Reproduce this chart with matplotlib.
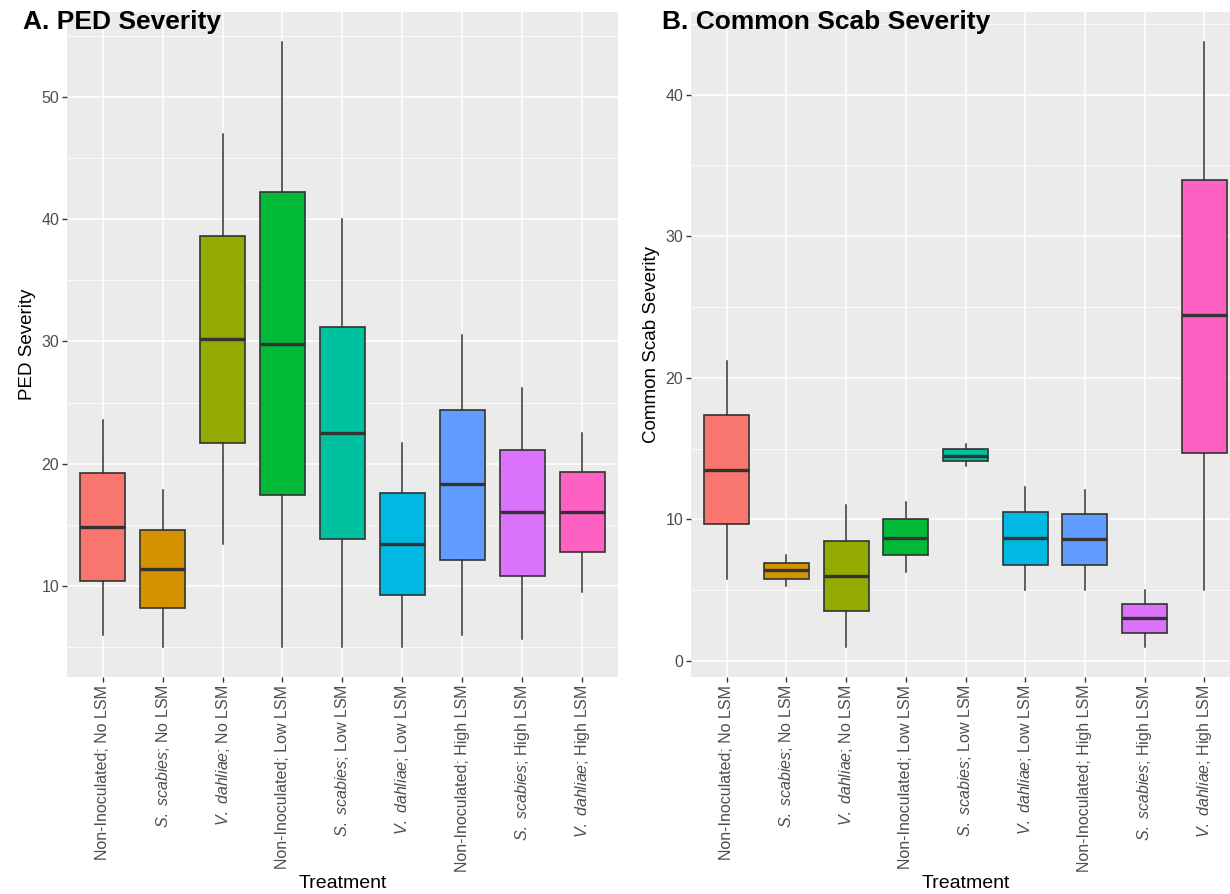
import matplotlib
matplotlib.use("Agg")
import matplotlib.pyplot as plt
from matplotlib.ticker import MultipleLocator

plt.rcParams['font.family'] = ['Liberation Sans', 'DejaVu Sans']
plt.rcParams['mathtext.fontset'] = 'custom'
plt.rcParams['mathtext.rm'] = 'Liberation Sans'
plt.rcParams['mathtext.it'] = 'Liberation Sans:italic'

treatments = [
    "Non-Inoculated; No LSM",
    r"$\mathit{S.}$ $\mathit{scabies}$; No LSM",
    r"$\mathit{V.}$ $\mathit{dahliae}$; No LSM",
    "Non-Inoculated; Low LSM",
    r"$\mathit{S.}$ $\mathit{scabies}$; Low LSM",
    r"$\mathit{V.}$ $\mathit{dahliae}$; Low LSM",
    "Non-Inoculated; High LSM",
    r"$\mathit{S.}$ $\mathit{scabies}$; High LSM",
    r"$\mathit{V.}$ $\mathit{dahliae}$; High LSM",
]
colors = ["#F8766D", "#D39200", "#93AA00", "#00BA38", "#00C19F",
          "#00B9E3", "#619CFF", "#DB72FB", "#FF61C3"]

# PED severity: five-number summaries per treatment
ped_lo = [6.0, 5.0, 13.4, 5.0, 5.0, 5.0, 6.0, 5.6, 9.5]
ped_q1 = [10.4, 8.2, 21.7, 17.4, 13.8, 9.2, 12.1, 10.8, 12.8]
ped_med = [14.8, 11.4, 30.2, 29.8, 22.5, 13.4, 18.3, 16.0, 16.0]
ped_q3 = [19.2, 14.6, 38.6, 42.2, 31.2, 17.6, 24.4, 21.1, 19.3]
ped_hi = [23.6, 17.8, 47.0, 54.5, 40.0, 21.7, 30.5, 26.2, 22.5]

# Common scab severity
cs_lo = [5.8, 5.3, 1.0, 6.3, 13.8, 5.0, 5.0, 1.0, 5.0]
cs_q1 = [9.7, 5.8, 3.5, 7.5, 14.1, 6.8, 6.8, 2.0, 14.7]
cs_med = [13.5, 6.4, 6.0, 8.7, 14.5, 8.7, 8.6, 3.0, 24.4]
cs_q3 = [17.4, 6.9, 8.5, 10.0, 15.0, 10.5, 10.4, 4.0, 34.0]
cs_hi = [21.2, 7.5, 11.0, 11.2, 15.3, 12.3, 12.1, 5.0, 43.7]

fig = plt.figure(figsize=(12.3, 8.94), dpi=100)
W, H = 1230, 894


def panel(rect, lo, q1, med, q3, hi, ylabel, title, title_x, major):
    ax = fig.add_axes(rect)
    stats = [dict(whislo=a, q1=b, med=c, q3=d, whishi=e)
             for a, b, c, d, e in zip(lo, q1, med, q3, hi)]
    pos = list(range(1, len(stats) + 1))
    edge = "#333333"
    bp = ax.bxp(stats, positions=pos, widths=0.75, patch_artist=True,
                showfliers=False, showcaps=False,
                boxprops=dict(edgecolor=edge, linewidth=1.2),
                medianprops=dict(color=edge, linewidth=2.4, solid_capstyle='butt'),
                whiskerprops=dict(color=edge, linewidth=1.1))
    for patch, col in zip(bp['boxes'], colors):
        patch.set_facecolor(col)

    span = max(hi) - min(lo)
    ax.set_ylim(min(lo) - 0.05 * span, max(hi) + 0.05 * span)
    ax.set_xlim(0.4, len(stats) + 0.6)

    ax.set_facecolor("#EBEBEB")
    for s in ax.spines.values():
        s.set_visible(False)
    ax.yaxis.set_major_locator(MultipleLocator(major))
    ax.yaxis.set_minor_locator(MultipleLocator(major / 2))
    ax.grid(which='major', color='white', linewidth=1.1)
    ax.grid(which='minor', axis='y', color='white', linewidth=0.55)
    ax.set_axisbelow(True)
    ax.tick_params(which='minor', length=0)
    ax.tick_params(which='major', length=3.5, width=1.0, color="#333333",
                   labelcolor="#4D4D4D", labelsize=11.5, pad=2)

    ax.set_xticks(pos)
    ax.set_xticklabels(treatments, rotation=90, ha='center', va='top')
    ax.set_xlabel("Treatment", fontsize=14, labelpad=2)
    ax.set_ylabel(ylabel, fontsize=13.5, labelpad=4)
    fig.text(title_x / W, 1 - 29 / H, title, fontsize=19,
             fontweight='bold', va='baseline', ha='left')
    return ax


panel([66.7 / W, 1 - 677 / H, 551.3 / W, 665 / H],
      ped_lo, ped_q1, ped_med, ped_q3, ped_hi,
      "PED Severity", "A. PED Severity", 23, 10)
panel([691 / W, 1 - 677 / H, 549 / W, 665 / H],
      cs_lo, cs_q1, cs_med, cs_q3, cs_hi,
      "Common Scab Severity", "B. Common Scab Severity", 662, 10)

fig.savefig("out.png", dpi=100)
